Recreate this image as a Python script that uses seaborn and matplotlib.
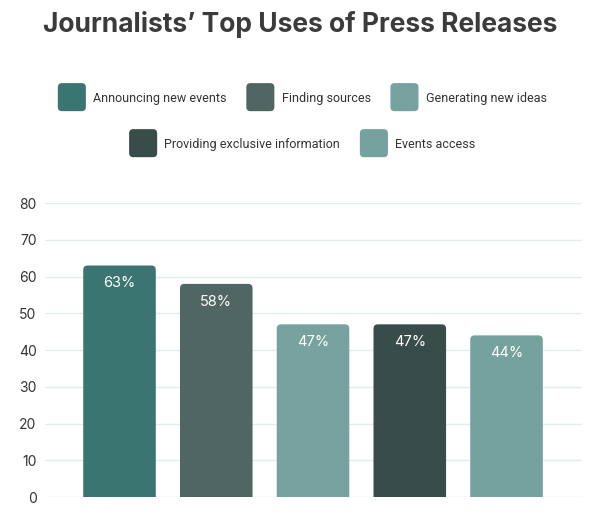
import matplotlib
matplotlib.use("Agg")
import matplotlib.pyplot as plt
import seaborn as sns
import pandas as pd
from matplotlib.patches import FancyBboxPatch, Patch
from matplotlib.legend_handler import HandlerPatch

categories = ["Announcing new events", "Finding sources", "Generating new ideas",
              "Providing exclusive information", "Events access"]
values = [63, 58, 47, 47, 44]
labels = ["63%", "58%", "47%", "47%", "44%"]
colors = ["#3a7571", "#506662", "#77a29f", "#384c4a", "#75a19e"]
yticks = [0, 10, 20, 30, 40, 50, 60, 70, 80]

sns.set_theme(style="white")
plt.rcParams["font.family"] = ["Inter", "DejaVu Sans"]

df = pd.DataFrame({"cat": categories, "val": values})

fig = plt.figure(figsize=(6, 5.2), dpi=100)
ax = fig.add_axes([0.075, 0.044, 0.895, 0.5656])
sns.barplot(data=df, x="cat", y="val", hue="cat", palette=colors, width=0.75,
            legend=False, ax=ax, saturation=1)

ax.set_xlim(-0.77, 4.78)
ax.set_ylim(0, 80)

# round the top corners of each bar
for p in list(ax.patches):
    x0, w, h = p.get_x(), p.get_width(), p.get_height()
    fc = p.get_facecolor()
    p.set_visible(False)
    fb = FancyBboxPatch((x0, -3), w, h + 3,
                        boxstyle="round,pad=0,rounding_size=0.045",
                        mutation_aspect=26.4, facecolor=fc, edgecolor="none",
                        zorder=2)
    ax.add_patch(fb)

ax.set_yticks(yticks)
ax.set_yticklabels([str(t) for t in yticks], fontsize=10, color="#333333")
ax.tick_params(axis="y", length=0, pad=6)
ax.set_xticks([])
ax.set_xlabel("")
ax.set_ylabel("")
for s in ax.spines.values():
    s.set_visible(False)
ax.grid(axis="y", color="#e5eced", linewidth=1)
ax.set_axisbelow(True)

for i, (v, lab) in enumerate(zip(values, labels)):
    ax.text(i, v - 4.8, lab, ha="center", va="center", color="white", fontsize=10.5,
            zorder=3)

fig.text(0.5, 0.952, "Journalists\u2019 Top Uses of Press Releases", ha="center", va="center",
         fontsize=19, fontweight="bold", color="#3b3b3b")


class RoundSwatch(HandlerPatch):
    def create_artists(self, legend, orig_handle, xdescent, ydescent, width, height,
                       fontsize, trans):
        s = 20.2
        cx = width / 2 - xdescent
        cy = height / 2 - ydescent
        p = FancyBboxPatch((cx - s / 2, cy - s / 2), s, s,
                           boxstyle="round,pad=0,rounding_size=3",
                           facecolor=orig_handle.get_facecolor(), edgecolor="none",
                           transform=trans)
        return [p]


def handles(idx):
    return [Patch(facecolor=colors[i]) for i in idx]

common = dict(loc="center", frameon=False, handletextpad=0.6,
              columnspacing=1.6, handlelength=2.2,
              handler_map={Patch: RoundSwatch()},
              prop={"family": ["Roboto", "DejaVu Sans"], "size": 9})
leg1 = fig.legend(handles([0, 1, 2]), categories[:3], ncol=3,
                  bbox_to_anchor=(0.504, 0.8115), **common)
leg2 = fig.legend(handles([3, 4]), categories[3:], ncol=2,
                  bbox_to_anchor=(0.504, 0.723), **common)
for leg in (leg1, leg2):
    for t in leg.get_texts():
        t.set_color("#333333")

fig.savefig("out.png", dpi=100)
